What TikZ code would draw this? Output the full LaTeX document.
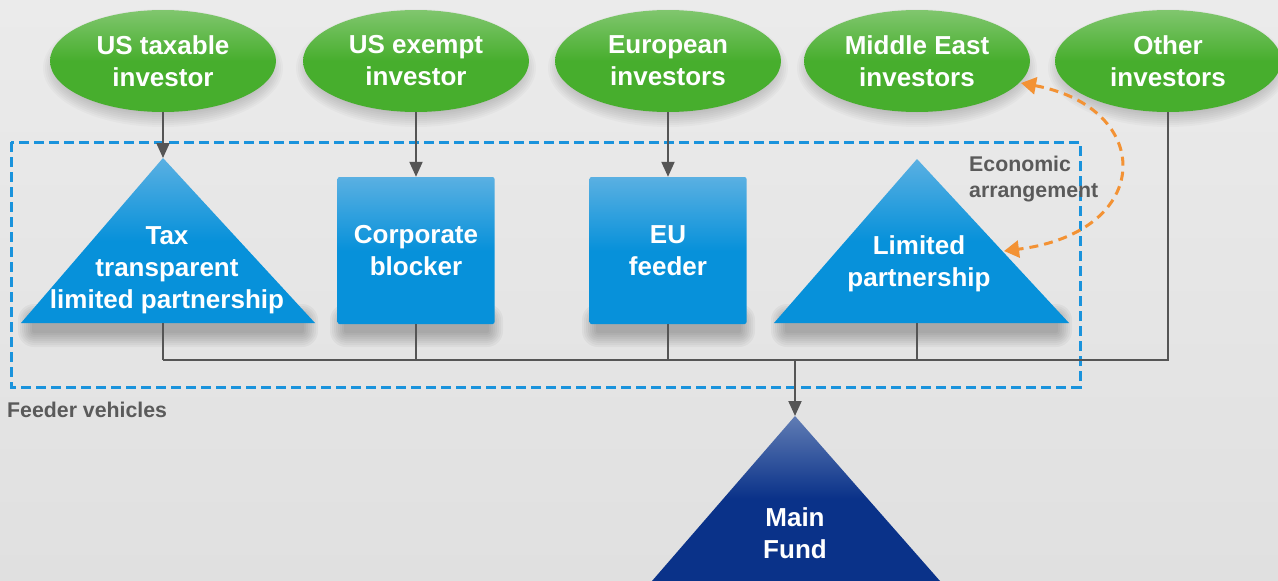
\documentclass[tikz,border=0pt]{standalone}
\usepackage{fontspec}
\setmainfont{Liberation Sans}
\usetikzlibrary{shapes.geometric,arrows.meta}
\definecolor{bgtop}{HTML}{EBEBEB}
\definecolor{bgbot}{HTML}{E0E0E0}
\definecolor{gtop}{HTML}{80C66E}
\definecolor{gbot}{HTML}{47AE2D}
\definecolor{btop}{HTML}{5AB0E2}
\definecolor{bbot}{HTML}{0791DA}
\definecolor{mtop}{HTML}{607CB4}
\definecolor{mbot}{HTML}{0A3289}
\definecolor{lineg}{HTML}{555555}
\definecolor{txtg}{HTML}{5A5A5A}
\definecolor{dashblue}{HTML}{1A93DC}
\definecolor{orng}{HTML}{F39234}
\newcommand{\bigf}{\fontsize{26}{32}\selectfont\bfseries}
\newcommand{\smallf}{\fontsize{21.3}{26}\selectfont\bfseries}
\tikzset{
  shlayer/.style={fill=black, opacity=#1},
  inv/.style={ellipse, minimum width=226pt, minimum height=102pt, inner sep=0pt,
    top color=gtop, bottom color=gbot, middle color=gbot, text=white, font=\bigf, align=center},
  boxv/.style={rectangle, rounded corners=2pt, minimum width=157pt, minimum height=147pt, inner sep=0pt,
    top color=btop, bottom color=bbot, middle color=bbot, text=white, font=\bigf, align=center},
  tri/.style={top color=btop, bottom color=bbot, middle color=bbot},
  mtri/.style={top color=mtop, bottom color=mbot, middle color=mbot},
  lbl/.style={text=white, font=\bigf, align=center, inner sep=0pt},
  note/.style={text=txtg, font=\smallf, align=left, inner sep=0pt},
  conn/.style={draw=lineg, line width=2pt},
  arr/.style={conn, -{Triangle[width=13pt,length=15pt]}},
  fvbox/.style={draw=dashblue, line width=3pt, dash pattern=on 10pt off 5pt},
  econ/.style={draw=orng, line width=3pt, dash pattern=on 9pt off 6pt,
    {Triangle[width=17pt,length=15pt]}-{Triangle[width=17pt,length=15pt]}},
}
\begin{document}
\begin{tikzpicture}[x=1pt,y=-1pt]
\useasboundingbox (0,0) rectangle (1278,581);
\shade[top color=bgtop, bottom color=bgbot] (0,0) rectangle (1278,581);

% soft shadows (stacked translucent layers)
\foreach \cx in {163,416,668,917,1168}{
  \foreach \i in {0,...,7}{
    \fill[shlayer=0.024] (\cx,68) ellipse ({106+2*\i} and {45+2*\i});
  }
}
\foreach \xa/\xb in {32/304, 344/489, 596/741, 785/1058}{
  \foreach \i in {0,...,7}{
    \fill[shlayer=0.036, rounded corners={2+2*\i}] (\xa-2*\i,{318-2*\i}) rectangle (\xb+2*\i,{333+2*\i});
  }
}

% feeder vehicles box
\draw[fvbox] (11,142) rectangle (1080,387);
\node[note, anchor=west] (fvl) at (7,410) {Feeder vehicles};

% investors
\node[inv] (ust) at (163,61) {US taxable\\investor};
\node[inv] (use) at (416,61) {US exempt\\investor};
\node[inv] (eur) at (668,61) {European\\investors};
\node[inv] (me)  at (917,61) {Middle East\\investors};
\node[inv] (oth) at (1168,61) {Other\\investors};

% feeder vehicles
\coordinate (t1a) at (163,158);
\coordinate (t1b) at (163,323);
\path[tri] (t1a) -- (315,323) -- (21,323) -- cycle;
\node[lbl] (tlp) at (167,270) {Tax\\transparent\\limited partnership};

\node[boxv] (cb) at (416,250.5) {Corporate\\blocker};
\node[boxv] (euf) at (668,250.5) {EU\\feeder};

\coordinate (t2a) at (917,159);
\coordinate (t2b) at (917,323);
\path[tri] (t2a) -- (1069,323) -- (774,323) -- cycle;
\node[lbl] (lp) at (919,264) {Limited\\partnership};

\node[note, anchor=west] (ea) at (969,179) {Economic\\arrangement};

% main fund
\coordinate (mfa) at (795,416);
\path[mtri] (mfa) -- (940,581) -- (652,581) -- cycle;
\node[lbl] (mf) at (795,533) {Main\\Fund};

% connectors
\draw[arr] (ust.south) -- (t1a);
\draw[arr] (use.south) -- (cb.north);
\draw[arr] (eur.south) -- (euf.north);

\coordinate (bus1) at (163,360);
\coordinate (bus2) at (416,360);
\coordinate (bus3) at (668,360);
\coordinate (bus4) at (917,360);
\coordinate (busm) at (795,360);
\coordinate (bus5) at (1168,360);
\draw[conn] (t1b) -- (bus1);
\draw[conn] (cb.south) -- (bus2);
\draw[conn] (euf.south) -- (bus3);
\draw[conn] (t2b) -- (bus4);
\draw[conn] (oth.south) -- (bus5) -- (bus1);
\draw[arr] (busm) -- (mfa);

% economic arrangement
\coordinate (ea1) at (1021,83);
\coordinate (ea2) at (1004,251);
\draw[econ] (ea1) .. controls (1155,108) and (1155,232) .. (ea2);
\end{tikzpicture}
\end{document}
